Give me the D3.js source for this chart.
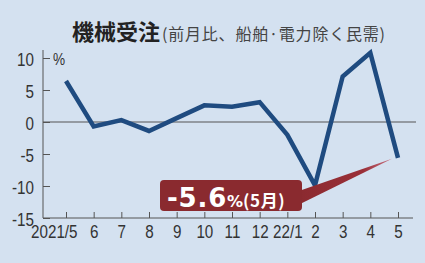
<!DOCTYPE html>
<html>
<head>
<meta charset="utf-8">
<script src="https://cdn.jsdelivr.net/npm/d3@7.9.0/dist/d3.min.js"></script>
<style>
  body { margin: 0; background: #d4e1f0; }
  svg { display: block; }
  .tick text { font-family: "Liberation Sans", Arial, sans-serif; font-size: 19px; fill: #333; }
</style>
</head>
<body>
<svg id="chart" width="425" height="263"></svg>
<script>
const months = ['2021/5', '6', '7', '8', '9', '10', '11', '12', '22/1', '2', '3', '4', '5'];
const values = [6.4, -0.7, 0.3, -1.4, 0.6, 2.6, 2.4, 3.1, -2.0, -9.9, 7.1, 10.8, -5.6];
const yTicks = [10, 5, 0, -5, -10, -15];

const svg = d3.select('#chart');
const plotLeft = 43, plotRight = 413, plotTop = 58, plotBottom = 218;
const narrow = 0.8; // squeeze the tick digits like a condensed face

svg.append('rect').attr('width', 425).attr('height', 263).attr('fill', '#d4e1f0');

let x = d3.scalePoint()
  .domain(months)
  .range([66, 398]);

let y = d3.scaleLinear()
  .domain([-15, 10])
  .range([plotBottom, plotTop]);

// title
let title = svg.append('text')
  .attr('x', 72).attr('y', 40)
  .attr('font-family', '"Noto Sans CJK JP", sans-serif')
  .attr('fill', '#222');
title.append('tspan').attr('font-size', 22).attr('font-weight', 'bold').text('機械受注');
title.append('tspan').attr('font-size', 16).attr('fill', '#444').attr('dx', 2)
  .attr('letter-spacing', 0.8).text('(前月比、船舶·電力除く民需)');

// y axis
let yAxis = svg.append('g')
  .attr('transform', `translate(${plotLeft},0)`)
  .call(d3.axisRight(y).tickValues(yTicks).tickSize(7).tickFormat(d => d));
yAxis.select('.domain').attr('stroke', '#555').attr('d', `M0,${plotTop - 8}V${plotBottom}`);
yAxis.selectAll('.tick line').attr('stroke', '#555');
yAxis.selectAll('.tick text')
  .attr('x', -9 / narrow).attr('text-anchor', 'end').attr('dy', '0.4em')
  .attr('transform', `scale(${narrow},1)`);

svg.append('text')
  .attr('x', 53 / narrow).attr('y', 65)
  .attr('transform', `scale(${narrow},1)`)
  .attr('font-family', '"Liberation Sans", Arial, sans-serif')
  .attr('font-size', 17).attr('fill', '#333')
  .text('%');

// x axis
let xAxis = svg.append('g')
  .attr('transform', `translate(0,${plotBottom})`)
  .call(d3.axisTop(x).tickSize(6).tickFormat(d => ''));
xAxis.select('.domain').attr('stroke', '#555').attr('d', `M${plotLeft},0H${plotRight}`);
xAxis.selectAll('.tick line').attr('stroke', '#555');
xAxis.selectAll('.tick').append('text')
  .attr('y', 20)
  .attr('x', (d, i) => i === 0 ? 11 / narrow : 0)
  .attr('text-anchor', (d, i) => i === 0 ? 'end' : 'middle')
  .attr('transform', `scale(${narrow},1)`)
  .attr('fill', '#333')
  .text(d => d);

// zero line
svg.append('line')
  .attr('x1', plotLeft).attr('x2', 416)
  .attr('y1', y(0)).attr('y2', y(0))
  .attr('stroke', '#555').attr('stroke-width', 1.2);

// series
let line = d3.line()
  .x((d, i) => x(months[i]))
  .y(d => y(d));

svg.append('path')
  .datum(values)
  .attr('d', line)
  .attr('fill', 'none')
  .attr('stroke', '#1f4b80')
  .attr('stroke-width', 4.5)
  .attr('stroke-linejoin', 'miter');

// callout
let last = values.length - 1;
let px = x(months[last]), py = y(values[last]);
let defs = svg.append('defs');
let grad = defs.append('linearGradient').attr('id', 'wedge')
  .attr('x1', '0').attr('x2', '1').attr('y1', '0').attr('y2', '0');
grad.append('stop').attr('offset', '0').attr('stop-color', '#8a2a2f');
grad.append('stop').attr('offset', '0.7').attr('stop-color', '#9a2f38');
grad.append('stop').attr('offset', '1').attr('stop-color', '#c87080');

svg.append('path')
  .attr('d', `M296,192L${px - 6},${py + 1}L296,206Z`)
  .attr('fill', 'url(#wedge)');

svg.append('rect')
  .attr('x', 160).attr('y', 180).attr('width', 142).attr('height', 31)
  .attr('rx', 4)
  .attr('fill', '#8a2a2f');

let lab = svg.append('text')
  .attr('x', 167).attr('y', 207)
  .attr('fill', '#fff')
  .attr('font-weight', 'bold');
lab.append('tspan')
  .attr('font-family', '"DejaVu Sans", sans-serif')
  .attr('font-size', 26).attr('letter-spacing', 0.8)
  .text(values[last].toFixed(1));
lab.append('tspan')
  .attr('font-family', '"DejaVu Sans", sans-serif')
  .attr('font-size', 16)
  .text('%');
lab.append('tspan')
  .attr('font-family', '"Noto Sans CJK JP", sans-serif')
  .attr('font-size', 17).attr('letter-spacing', 0.6)
  .text('(5月)');
</script>
</body>
</html>
